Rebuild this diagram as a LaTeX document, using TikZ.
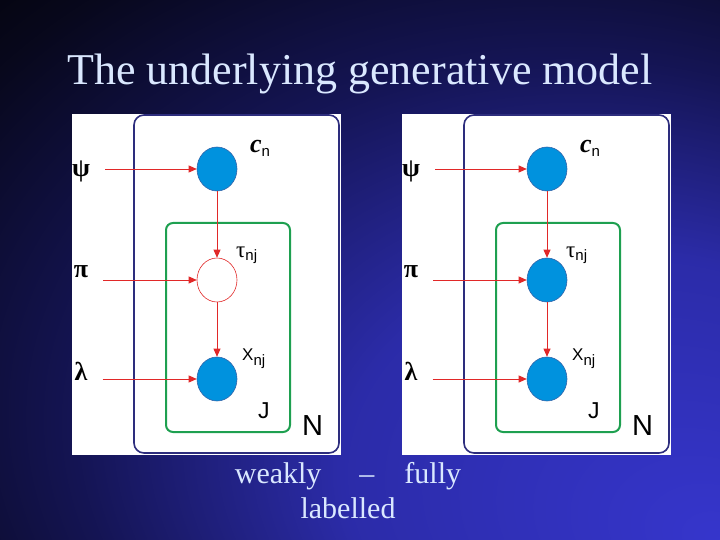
\documentclass[tikz,border=0pt]{standalone}
\usepackage{fontspec}
\setmainfont{Liberation Serif}
\newfontfamily\lsans{Liberation Sans}
\usetikzlibrary{shapes.geometric,arrows.meta}
\definecolor{obsblue}{RGB}{0,146,222}
\definecolor{obsedge}{RGB}{50,100,170}
\definecolor{arrred}{RGB}{225,40,40}
\definecolor{platenc}{RGB}{45,45,125}
\definecolor{platejc}{RGB}{30,160,80}
\definecolor{titlecol}{RGB}{218,232,255}
\pgfdeclareradialshading{bgshade}{\pgfpoint{25bp}{-25bp}}{rgb(0bp)=(0.21,0.21,0.80); rgb(20bp)=(0.17,0.17,0.66); rgb(34bp)=(0.08,0.08,0.33); rgb(46bp)=(0.03,0.03,0.11); rgb(55bp)=(0,0,0); rgb(80bp)=(0,0,0)}
\tikzset{
  obs/.style={ellipse, fill=obsblue, draw=obsedge, line width=0.6pt, minimum width=40pt, minimum height=44pt, inner sep=0pt},
  hid/.style={ellipse, fill=white, draw=arrred, line width=0.6pt, minimum width=40pt, minimum height=44pt, inner sep=0pt},
  arr/.style={draw=arrred, line width=0.8pt, -{Triangle[length=8pt,width=7pt]}},
  platen/.style={draw=platenc, line width=1.6pt, rounded corners=10pt},
  platej/.style={draw=platejc, line width=2pt, rounded corners=7pt},
  greek/.style={inner sep=0pt, font=\fontsize{26}{26}\selectfont\bfseries, text=black},
  lab/.style={inner sep=0pt, text=black},
  titletext/.style={inner sep=0pt, text=titlecol, font=\fontsize{44}{50}\selectfont},
  captext/.style={inner sep=0pt, text=titlecol, font=\fontsize{30}{35}\selectfont, align=center}
}
\begin{document}
\begin{tikzpicture}[x=1pt,y=-1pt]
\useasboundingbox (0,0) rectangle (720,540);
\shade[shading=bgshade] (0,0) rectangle (720,540);
\node[titletext, anchor=base] (title) at (360,85) {The underlying generative model};
\foreach \s/\dx/\ts in {L/0/hid,R/330/obs}{
  \begin{scope}[xshift=\dx pt]
    \fill[white] (72,114) rectangle (341,455);
    \draw[platen] (134,115) rectangle (339,453);
    \draw[platej] (166,223) rectangle (290,432);
    \node[obs] (c\s) at (217,169) {};
    \node[\ts] (t\s) at (217,280) {};
    \node[obs] (x\s) at (217,379) {};
    \node[greek, anchor=base] (psi\s) at (81,177) {ψ};
    \node[greek, anchor=base] (pi\s) at (81,277) {π};
    \node[greek, anchor=base] (lam\s) at (81,380) {λ};
    \node[lab, anchor=base west] (cl\s) at (250,153) {\fontsize{26}{26}\selectfont\textbf{\textit{c}}\raisebox{-4pt}{\lsans\fontsize{15}{15}\selectfont n}};
    \node[lab, anchor=base west] (tl\s) at (236,257) {\fontsize{23}{23}\selectfont τ\raisebox{-3pt}{\lsans\fontsize{15}{15}\selectfont nj}};
    \node[lab, anchor=base west] (xl\s) at (242,360) {\lsans\fontsize{17}{17}\selectfont X\raisebox{-5pt}{\fontsize{15}{15}\selectfont nj}};
    \node[lab, anchor=base west] (jl\s) at (258,418) {\lsans\fontsize{23}{23}\selectfont J};
    \node[lab, anchor=base west] (nl\s) at (302,435) {\lsans\fontsize{29}{29}\selectfont N};
    \draw[arr, shorten <=15pt] (psi\s.east |- c\s.west) -- (c\s.west);
    \draw[arr, shorten <=15pt] (pi\s.east |- t\s.west) -- (t\s.west);
    \draw[arr, shorten <=15pt] (lam\s.east |- x\s.west) -- (x\s.west);
    \draw[arr] (c\s) -- (t\s);
    \draw[arr] (t\s) -- (x\s);
  \end{scope}
}
\node[captext, anchor=base] (cap) at (348,518) {weakly\hspace{38pt}–\hspace{30pt}fully\\labelled};
\end{tikzpicture}
\end{document}
